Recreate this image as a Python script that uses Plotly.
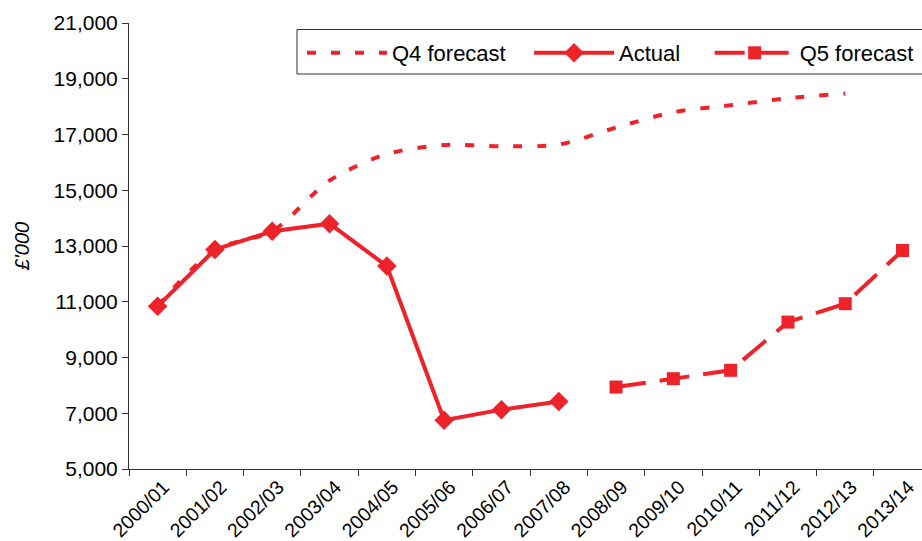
import plotly.graph_objects as go

# Financial years on the x axis
years = ["2000/01", "2001/02", "2002/03", "2003/04", "2004/05", "2005/06", "2006/07",
         "2007/08", "2008/09", "2009/10", "2010/11", "2011/12", "2012/13", "2013/14"]

# £'000 values
q4_years = years[:13]
q4_forecast = [10850, 12870, 13530, 15350, 16300, 16620, 16580, 16640,
               17250, 17800, 18050, 18300, 18470]

actual_years = years[:8]
actual = [10840, 12870, 13530, 13800, 12280, 6750, 7130, 7420]

q5_years = years[8:]
q5_forecast = [7940, 8240, 8540, 10270, 10930, 12840]

y_ticks = [5000, 7000, 9000, 11000, 13000, 15000, 17000, 19000, 21000]

RED = "#EE2229"
FONT = "Liberation Sans, Arial, sans-serif"
NBSP = "\u00a0"

fig = go.Figure()

fig.add_trace(go.Scatter(
    x=q4_years, y=q4_forecast, name="Q4 forecast" + NBSP * 3, mode="lines",
    line=dict(color=RED, width=4, dash="9px,15px", shape="spline", smoothing=0.8),
))
fig.add_trace(go.Scatter(
    x=actual_years, y=actual, name="Actual" + NBSP * 4, mode="lines+markers",
    line=dict(color=RED, width=4),
    marker=dict(symbol="diamond", size=15, color=RED),
))
fig.add_trace(go.Scatter(
    x=q5_years, y=q5_forecast, name="Q5 forecast", mode="lines+markers",
    line=dict(color=RED, width=4, dash="30px,14px"),
    marker=dict(symbol="square", size=13, color=RED),
))

W, H = 922, 541
L, R, T, B = 129, 0, 23, 72
plot_w = W - L - R
plot_h = H - T - B
cat_w = 57.3
x_max = (plot_w / cat_w) - 0.5


def px_x(px):
    return (px - L) / plot_w


def px_y(py):
    return 1 - (py - T) / plot_h


fig.update_layout(
    width=W, height=H,
    margin=dict(l=L, r=R, t=T, b=B, autoexpand=False),
    paper_bgcolor="white", plot_bgcolor="white",
    font=dict(family=FONT, color="black"),
    showlegend=True,
    legend=dict(
        orientation="h",
        x=px_x(302), xanchor="left",
        y=px_y(32), yanchor="top",
        bgcolor="rgba(0,0,0,0)", borderwidth=0,
        font=dict(size=22, family=FONT),
        itemwidth=80,
        traceorder="normal",
    ),
    # legend frame, running past the right edge of the page
    shapes=[dict(
        type="rect", xref="paper", yref="paper", layer="below",
        x0=px_x(297), x1=px_x(940), y0=px_y(74), y1=px_y(29.5),
        line=dict(color="#333333", width=1), fillcolor="white",
    )],
    xaxis=dict(
        type="category", categoryorder="array", categoryarray=years,
        range=[-0.5, x_max],
        showline=True, linecolor="#333333", linewidth=1,
        ticks="outside", ticklen=6, tickcolor="#333333", tickson="boundaries",
        tickangle=-45, tickfont=dict(size=19.5), ticklabelshift=6,
        ticklabelstandoff=-2,
        showgrid=False, zeroline=False, automargin=False,
    ),
    yaxis=dict(
        range=[5000, 21000], tickvals=y_ticks,
        tickformat=",d",
        showline=True, linecolor="#333333", linewidth=1,
        ticks="outside", ticklen=6, tickcolor="#333333",
        tickfont=dict(size=21),
        showgrid=False, zeroline=False, automargin=False,
        title=dict(text="<i>£'000</i>", font=dict(size=20), standoff=18),
    ),
)

fig.write_html("out.html")
